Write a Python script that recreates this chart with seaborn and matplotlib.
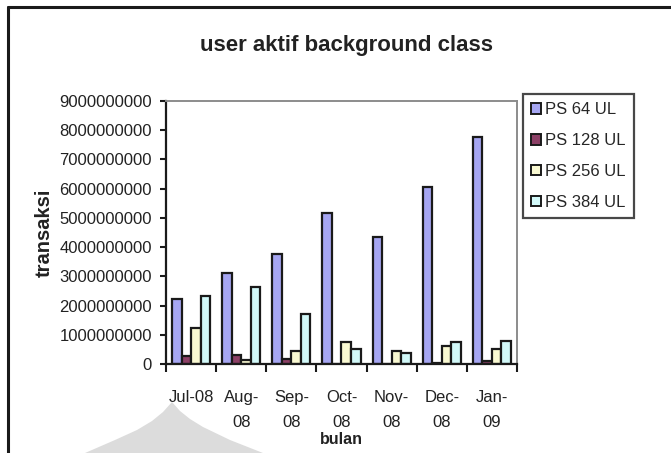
import matplotlib
matplotlib.use("Agg")
import matplotlib.pyplot as plt
from matplotlib.lines import Line2D
from matplotlib.patches import Polygon
import pandas as pd
import seaborn as sns

months = ["Jul-08", "Aug-\n08", "Sep-\n08", "Oct-\n08", "Nov-\n08", "Dec-\n08", "Jan-\n09"]
series = ["PS 64 UL", "PS 128 UL", "PS 256 UL", "PS 384 UL"]
ps64 = [2.22e9, 3.11e9, 3.75e9, 5.18e9, 4.34e9, 6.07e9, 7.78e9]
ps128 = [0.26e9, 0.31e9, 0.18e9, 0.0, 0.0, 0.03e9, 0.09e9]
ps256 = [1.23e9, 0.125e9, 0.44e9, 0.74e9, 0.44e9, 0.60e9, 0.50e9]
ps384 = [2.31e9, 2.65e9, 1.70e9, 0.51e9, 0.38e9, 0.74e9, 0.78e9]
colors = ["#9999FF", "#993366", "#FFFFCC", "#CCFFFF"]

rows = []
for name, vals in zip(series, [ps64, ps128, ps256, ps384]):
    for m, v in zip(months, vals):
        rows.append({"bulan": m, "seri": name, "transaksi": v})
df = pd.DataFrame(rows)

sns.set_style("white")
plt.rcParams["font.family"] = ["Liberation Sans", "DejaVu Sans"]

W, H = 671, 453
fig = plt.figure(figsize=(W / 100, H / 100), dpi=100)
ax = fig.add_axes([166 / W, 1 - 364 / H, (517 - 166) / W, (364 - 101) / H])

sns.barplot(data=df, x="bulan", y="transaksi", hue="seri", order=months,
            hue_order=series, palette=colors, width=0.76, gap=0,
            edgecolor="#1a1a1a", linewidth=1.6, errorbar=None, ax=ax,
            legend=True)

ax.set_xlim(-0.5, len(months) - 0.5)
ax.set_ylim(0, 9e9)
ax.set_yticks([i * 1e9 for i in range(10)])
ax.set_yticklabels([f"{i * 1000000000:d}" if i else "0" for i in range(10)])
ax.tick_params(axis="y", direction="out", length=4, width=1.5, color="#1a1a1a",
               labelsize=12, labelcolor="#222222", pad=6, left=True)
ax.set_xticks(range(len(months)))
ax.set_xticklabels(months)
ax.tick_params(axis="x", which="major", length=0, labelsize=12,
               labelcolor="#222222", pad=19)
ax.set_xticks([i - 0.5 for i in range(len(months) + 1)], minor=True)
ax.tick_params(axis="x", which="minor", direction="out", length=6, width=1.5,
               color="#1a1a1a", bottom=True)
for lbl in ax.get_xticklabels():
    lbl.set_linespacing(1.8)
    lbl.set_verticalalignment("top")

ax.set_xlabel("bulan", fontsize=11.5, fontweight="bold", color="#222222")
ax.xaxis.set_label_coords(0.5, -0.258)
ax.set_ylabel("transaksi", fontsize=14.5, fontweight="bold", color="#222222",
              labelpad=4)
ax.grid(False)

for side in ["left", "bottom"]:
    ax.spines[side].set_color("#1a1a1a")
    ax.spines[side].set_linewidth(1.6)
for side in ["top", "right"]:
    ax.spines[side].set_color("#8c8c8c")
    ax.spines[side].set_linewidth(1.4)
    ax.spines[side].set_visible(True)

handles, labels = ax.get_legend_handles_labels()
ax.get_legend().remove()
leg = fig.legend(handles, labels, loc="upper left",
                 bbox_to_anchor=(523 / W, 1 - 94 / H), frameon=True,
                 fancybox=False, edgecolor="#1a1a1a", fontsize=12,
                 handlelength=0.6, handleheight=0.6, handletextpad=0.2,
                 labelspacing=0.95, borderpad=0.5, borderaxespad=0)
leg.get_frame().set_linewidth(1.6)
for h in leg.legend_handles:
    h.set_linewidth(1.4)

fig.text(347 / W, 1 - 45 / H, "user aktif background class", ha="center",
         va="center", fontsize=16, fontweight="bold", color="#222222")

# page frame and the faint shape at the lower left of the page
fig.add_artist(Line2D([8 / W, 1.0], [1 - 7 / H, 1 - 7 / H],
                      transform=fig.transFigure, color="#1a1a1a", lw=2.2))
fig.add_artist(Line2D([8 / W, 8 / W], [0.0, 1 - 7 / H],
                      transform=fig.transFigure, color="#1a1a1a", lw=2.2))
shape = [(85, 453), (115, 440), (137, 430), (152, 421), (163, 412),
         (172, 402), (180, 411), (190, 419), (203, 427), (230, 440),
         (263, 453)]
fig.add_artist(Polygon([(x / W, 1 - y / H) for x, y in shape], closed=True,
                       transform=fig.transFigure, facecolor="#dcdcdc",
                       edgecolor="none", zorder=0))

fig.savefig("out.png", dpi=100)
